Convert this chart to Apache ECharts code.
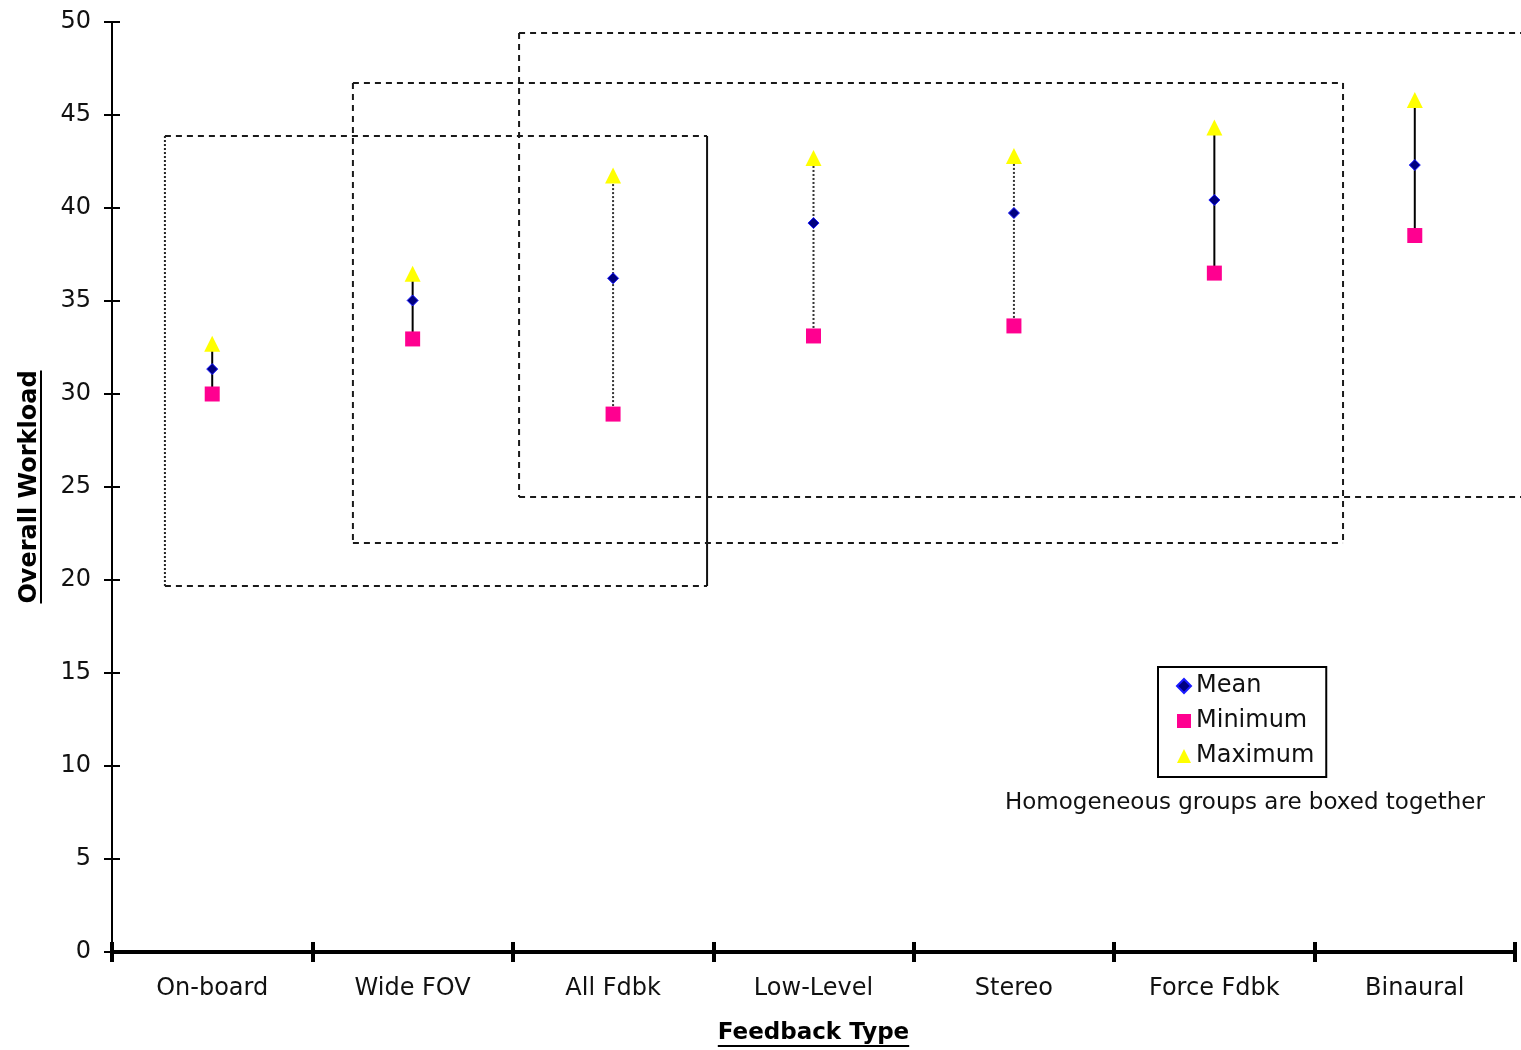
<!DOCTYPE html>
<html><head><meta charset="utf-8">
<script src="https://cdn.jsdelivr.net/npm/echarts@6/dist/echarts.min.js"></script>
<style>html,body{margin:0;padding:0;background:#fff}#c{width:1521px;height:1050px}</style>
</head><body><div id="c"></div>
<script>
// ---- data ----
const categories = ['On-board', 'Wide FOV', 'All Fdbk', 'Low-Level', 'Stereo', 'Force Fdbk', 'Binaural'];
const meanValues = [31.34, 35.03, 36.22, 39.19, 39.73, 40.43, 42.31];
const minValues  = [30.0, 32.96, 28.92, 33.12, 33.66, 36.5, 38.52];
const maxValues  = [32.7, 36.47, 41.75, 42.69, 42.8, 44.33, 45.8];
const yTicks = [0, 50, 5]; // min, max, step

// homogeneous group boxes (in axis units: category index / workload)
const boxLeft   = [-0.236, 0.702, 1.531];
const boxRight  = [2.469, 5.642, 6.6];
const boxBottom = [19.68, 21.99, 24.46];
const boxTop    = [43.87, 46.72, 49.41];

// ---- styles ----
const whiskerDotted = [false, false, true, true, true, false, false];
const boxLeftEdge  = ['dotted', 'dashed', 'dashed'];
const boxRightEdge = ['solid', 'dashed', 'none'];

const FONT = '"DejaVu Sans", Verdana, sans-serif';
function measure(text, font) {
  const c = document.createElement('canvas').getContext('2d');
  c.font = font; return c.measureText(text).width;
}

const chart = echarts.init(document.getElementById('c'), null, {renderer: 'canvas'});
const gridL = 112, gridR = 6, gridT = 22, gridB = 98;
const W = 1521, H = 1050;
const gridCx = gridL + (W - gridL - gridR) / 2;
const gridCy = gridT + (H - gridT - gridB) / 2;

const xTitle = 'Feedback Type', yTitle = 'Overall Workload';
const xTitleW = measure(xTitle, 'bold 23px ' + FONT);
const yTitleW = measure(yTitle, 'bold 24px ' + FONT);

function edgeStyle(kind) {
  if (kind === 'solid') return {stroke: '#111', lineWidth: 2};
  if (kind === 'dotted') return {stroke: '#222', lineWidth: 2, lineDash: [2, 2]};
  return {stroke: '#1a1a1a', lineWidth: 2, lineDash: [6, 5]};
}

const option = {
  animation: false,
  backgroundColor: '#fff',
  grid: {left: gridL, right: gridR, top: gridT, bottom: gridB, containLabel: false},
  xAxis: [
    {
      type: 'category', data: categories, position: 'bottom', boundaryGap: true,
      axisLine: {show: true, onZero: false, lineStyle: {color: '#000', width: 4}},
      axisTick: {show: true, length: 10, interval: 0, lineStyle: {color: '#000', width: 4}},
      axisLabel: {interval: 0, margin: 25, fontSize: 24, color: '#111', fontFamily: FONT},
      splitLine: {show: false},
      name: xTitle, nameLocation: 'middle', nameGap: 70,
      nameTextStyle: {fontSize: 23, fontWeight: 'bold', color: '#000', fontFamily: FONT}
    },
    {
      type: 'category', data: categories, position: 'bottom', boundaryGap: true,
      axisLine: {show: false, onZero: false},
      axisTick: {show: true, inside: true, length: 10, interval: 0, lineStyle: {color: '#000', width: 4}},
      axisLabel: {show: false}, splitLine: {show: false}
    },
    {type: 'value', min: -0.5, max: 6.5, show: false, axisLine: {onZero: false}}
  ],
  yAxis: [
    {
      type: 'value', min: yTicks[0], max: yTicks[1], interval: yTicks[2], position: 'left',
      axisLine: {show: true, onZero: false, lineStyle: {color: '#000', width: 2}},
      axisTick: {show: true, length: 8, lineStyle: {color: '#000', width: 2}},
      axisLabel: {margin: 21, fontSize: 24, color: '#111', fontFamily: FONT},
      splitLine: {show: false},
      name: yTitle, nameLocation: 'middle', nameGap: 70, nameRotate: 90,
      nameTextStyle: {fontSize: 24, fontWeight: 'bold', color: '#000', fontFamily: FONT}
    },
    {
      type: 'value', min: yTicks[0], max: yTicks[1], interval: yTicks[2], position: 'left',
      axisLine: {show: false, onZero: false},
      axisTick: {show: true, inside: true, length: 8, lineStyle: {color: '#000', width: 2}},
      axisLabel: {show: false}, splitLine: {show: false}
    }
  ],
  legend: {
    orient: 'vertical', left: 1158, top: 667,
    padding: [7, 12, 9, 18], itemGap: 11, itemWidth: 14, itemHeight: 14,
    borderColor: '#000', borderWidth: 2, backgroundColor: '#fff',
    textStyle: {fontSize: 24, color: '#111', fontFamily: FONT},
    data: [
      {name: 'Mean', icon: 'diamond'},
      {name: 'Minimum', icon: 'rect'},
      {name: 'Maximum', icon: 'triangle'}
    ]
  },
  graphic: [
    {type: 'text', left: 1005, top: 792, silent: true,
     style: {text: 'Homogeneous groups are boxed together', fontSize: 23, fill: '#111', fontFamily: FONT}},
    {type: 'line', silent: true, shape: {x1: gridCx - xTitleW / 2, y1: 1046, x2: gridCx + xTitleW / 2, y2: 1046},
     style: {stroke: '#000', lineWidth: 2}},
    {type: 'line', silent: true, shape: {x1: 41, y1: gridCy - yTitleW / 2, x2: 41, y2: gridCy + yTitleW / 2},
     style: {stroke: '#000', lineWidth: 2}}
  ],
  series: [
    {
      type: 'custom', name: 'groups', xAxisIndex: 2, yAxisIndex: 0, clip: false, silent: true, z: 1,
      data: boxLeft.map((l, i) => [l, boxRight[i], boxBottom[i], boxTop[i], i]),
      encode: {x: [0, 1], y: [2, 3]},
      renderItem: function (params, api) {
        const i = api.value(4);
        const tl = api.coord([api.value(0), api.value(3)]);
        const br = api.coord([api.value(1), api.value(2)]);
        const dashed = edgeStyle('dashed');
        const children = [
          {type: 'line', shape: {x1: tl[0], y1: tl[1], x2: br[0], y2: tl[1]}, style: dashed},
          {type: 'line', shape: {x1: tl[0], y1: br[1], x2: br[0], y2: br[1]}, style: dashed},
          {type: 'line', shape: {x1: tl[0], y1: tl[1], x2: tl[0], y2: br[1]}, style: edgeStyle(boxLeftEdge[i])}
        ];
        if (boxRightEdge[i] !== 'none') {
          children.push({type: 'line', shape: {x1: br[0], y1: tl[1], x2: br[0], y2: br[1]}, style: edgeStyle(boxRightEdge[i])});
        }
        return {type: 'group', children: children};
      }
    },
    {
      type: 'custom', name: 'range', xAxisIndex: 0, yAxisIndex: 0, silent: true, z: 2,
      data: categories.map((c, i) => [i, minValues[i], maxValues[i]]),
      encode: {x: 0, y: [1, 2]},
      renderItem: function (params, api) {
        const i = api.value(0);
        const a = api.coord([i, api.value(1)]);
        const b = api.coord([i, api.value(2)]);
        const style = whiskerDotted[i]
          ? {stroke: '#333', lineWidth: 2, lineDash: [2, 2]}
          : {stroke: '#000', lineWidth: 2};
        return {type: 'line', shape: {x1: a[0], y1: a[1], x2: b[0], y2: b[1]}, style: style};
      }
    },
    {
      type: 'scatter', name: 'Minimum', xAxisIndex: 0, yAxisIndex: 0, z: 3,
      symbol: 'rect', symbolSize: 15, data: minValues,
      itemStyle: {color: '#ff0090', opacity: 1}
    },
    {
      type: 'scatter', name: 'Maximum', xAxisIndex: 0, yAxisIndex: 0, z: 3,
      symbol: 'triangle', symbolSize: 16, data: maxValues,
      itemStyle: {color: '#ffff00', opacity: 1}
    },
    {
      type: 'scatter', name: 'Mean', xAxisIndex: 0, yAxisIndex: 0, z: 4,
      symbol: 'diamond', symbolSize: 11, data: meanValues,
      itemStyle: {color: '#000080', borderColor: '#1a1aff', borderWidth: 1, opacity: 1}
    }
  ]
};
chart.setOption(option);
</script>
</body></html>
